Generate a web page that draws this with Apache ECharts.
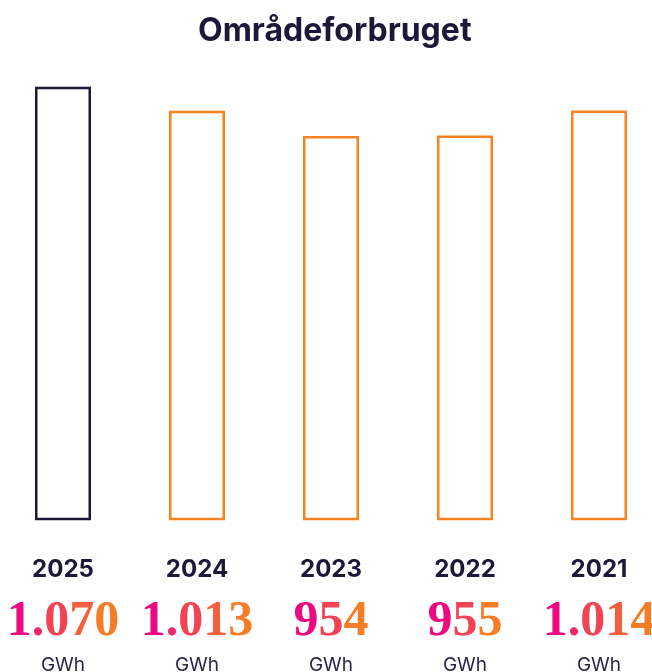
<!DOCTYPE html>
<html>
<head>
<meta charset="utf-8">
<script src="https://cdn.jsdelivr.net/npm/echarts@6/dist/echarts.min.js"></script>
<style>
  html, body { margin: 0; padding: 0; background: #fff; }
  #chart { width: 652px; height: 672px; }
</style>
</head>
<body>
<div id="chart"></div>
<script>
// Data
const years = ['2025', '2024', '2023', '2022', '2021'];
const consumption = [1070, 1013, 954, 955, 1014];
const valueLabels = ['1.070', '1.013', '954', '955', '1.014'];
const unit = 'GWh';

const navy = '#1c1838';
const orange = '#f7821f';

// pink -> orange gradient applied letter by letter
const gradFrom = [236, 10, 128];
const gradTo = [246, 124, 38];
const mix = t => 'rgb(' + gradFrom.map((c, k) => Math.round(c + (gradTo[k] - c) * t)).join(',') + ')';

const richStyles = {
  y: { fontFamily: 'Inter', fontWeight: 'bold', fontSize: 24, color: navy, lineHeight: 30 },
  u: { fontFamily: 'Inter', fontSize: 19, color: '#2a2745', lineHeight: 10 }
};
[3, 5].forEach(n => {
  for (let i = 0; i < n; i++) {
    richStyles['g' + n + '_' + i] = {
      fontFamily: 'Liberation Serif', fontWeight: 'bold', fontSize: 50,
      color: mix(i / (n - 1)), lineHeight: 75
    };
  }
});

const colorize = s => s.split('').map((ch, i) => `{g${s.length}_${i}|${ch}}`).join('');

const option = {
  animation: false,
  title: {
    text: 'Områdeforbruget',
    left: 193,
    top: 10,
    textStyle: {
      fontFamily: 'Inter',
      fontWeight: 'bold',
      fontSize: 32,
      color: navy
    }
  },
  grid: { left: -4, right: -14, top: 74, bottom: 153, outerBoundsMode: 'none' },
  xAxis: {
    type: 'category',
    data: years,
    axisLine: { show: false },
    axisTick: { show: false },
    axisLabel: {
      margin: 36,
      interval: 0,
      formatter: (val, i) => `{y|${val}}\n${colorize(valueLabels[i])}\n{u|${unit}}`,
      rich: richStyles
    }
  },
  yAxis: {
    type: 'value',
    min: 50,
    max: 1100,
    show: false
  },
  series: [{
    type: 'bar',
    barWidth: 56,
    data: consumption.map((v, i) => ({
      value: v,
      itemStyle: { borderColor: i === 0 ? navy : orange }
    })),
    itemStyle: {
      color: 'rgba(0,0,0,0)',
      borderWidth: 2.5
    }
  }]
};

const myChart = echarts.init(document.getElementById('chart'));
myChart.setOption(option);
</script>
</body>
</html>
